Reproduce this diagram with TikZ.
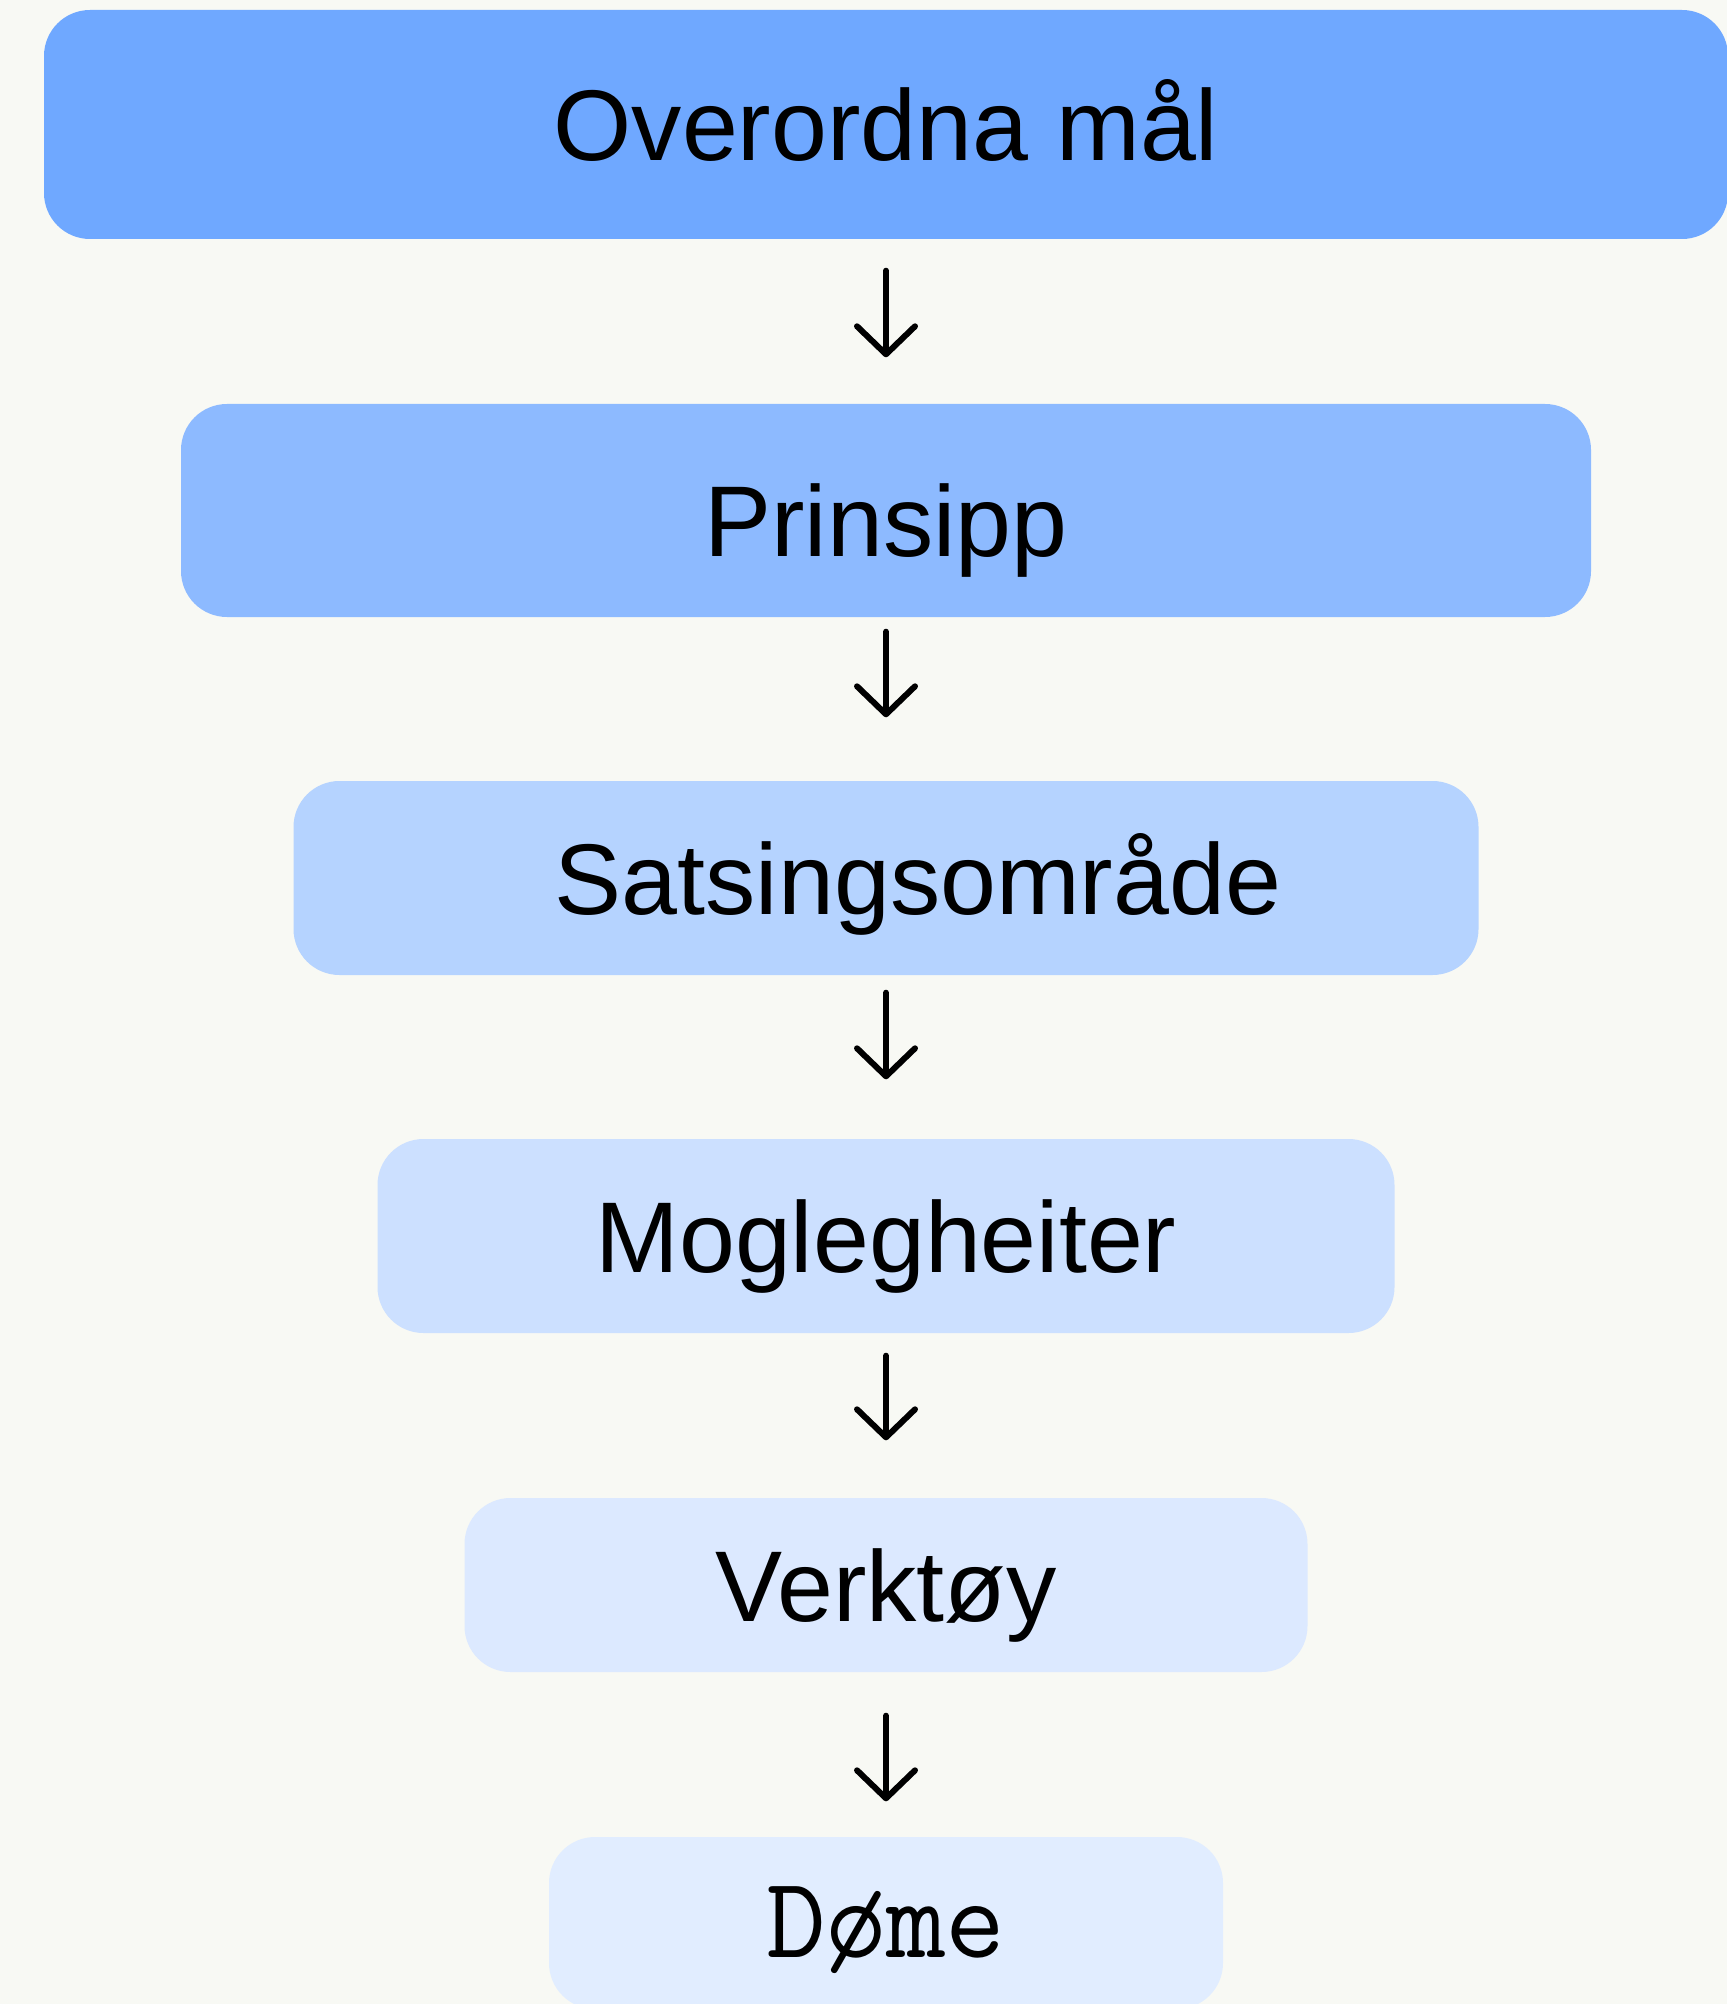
\documentclass[tikz,border=0pt]{standalone}
\usepackage{fontspec}
\setmainfont{Liberation Sans}
\usetikzlibrary{arrows.meta}
\definecolor{bgcream}{HTML}{F8F9F4}
\definecolor{lvlone}{HTML}{6FA8FF}
\definecolor{lvltwo}{HTML}{8DBAFF}
\definecolor{lvlthree}{HTML}{B5D3FF}
\definecolor{lvlfour}{HTML}{CCE0FF}
\definecolor{lvlfive}{HTML}{DCE9FF}
\definecolor{lvlsix}{HTML}{E1EDFF}
\begin{document}
\begin{tikzpicture}[
  level/.style={rounded corners=0.46cm, inner sep=0pt, text height=0.72cm, text depth=0pt,
    font=\fontsize{28.6}{34}\selectfont},
  flow/.style={-{Straight Barb[length=0.28cm,width=0.58cm,round]}, line width=0.06cm, line cap=round}]
  \fill[bgcream] (0,0) rectangle (17.27,-20.04);
  \useasboundingbox (0,0) rectangle (17.27,-20.04);
  \node (OVM) [level, fill=lvlone, minimum width=16.84cm, minimum height=2.29cm] at (8.86,-1.245) {Overordna mål};
  \node (PRI) [level, fill=lvltwo, minimum width=14.10cm, minimum height=2.13cm, below of=OVM, node distance=3.86cm,
    text height=0.92cm] {Prinsipp};
  \node (SAT) [level, fill=lvlthree, minimum width=11.85cm, minimum height=1.94cm, below of=PRI, node distance=3.675cm] {\hspace*{0.64cm}Satsingsområde};
  \node (MOG) [level, fill=lvlfour, minimum width=10.17cm, minimum height=1.94cm, below of=SAT, node distance=3.58cm] {Moglegheiter};
  \node (VER) [level, fill=lvlfive, minimum width=8.43cm, minimum height=1.74cm, below of=MOG, node distance=3.49cm] {Verktøy};
  \node (DOM) [level, fill=lvlsix, minimum width=6.74cm, minimum height=1.72cm, below of=VER, node distance=3.38cm,
    text height=0.68cm, font=\ttfamily\fontsize{33}{38}\selectfont] {Døme};
  \draw[flow, shorten <=0.31cm, shorten >=0.46cm] (OVM) -- (PRI);
  \draw[flow, shorten <=0.14cm, shorten >=0.63cm] (PRI) -- (SAT);
  \draw[flow, shorten <=0.17cm, shorten >=0.59cm] (SAT) -- (MOG);
  \draw[flow, shorten <=0.22cm, shorten >=0.57cm] (MOG) -- (VER);
  \draw[flow, shorten <=0.43cm, shorten >=0.35cm] (VER) -- (DOM);
\end{tikzpicture}
\end{document}
